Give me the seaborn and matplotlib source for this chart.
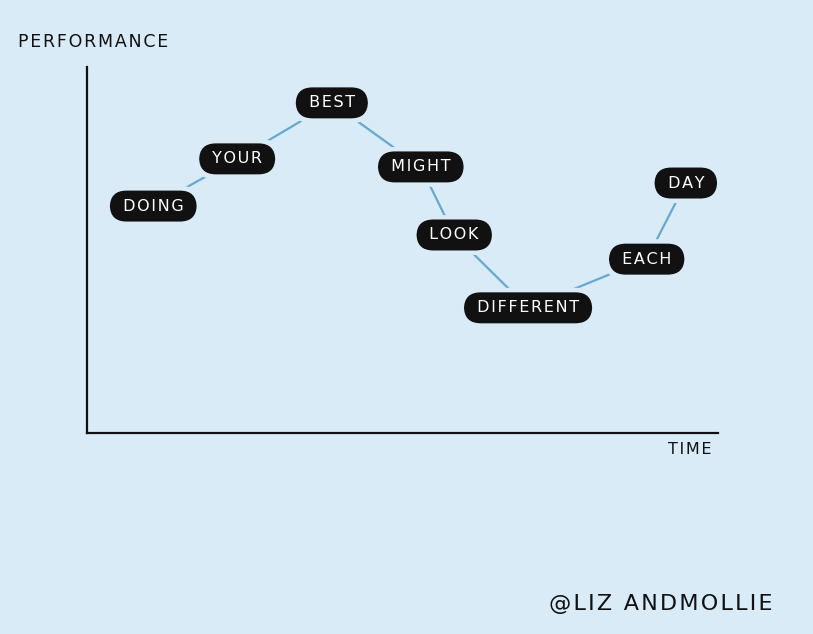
import matplotlib
matplotlib.use("Agg")
import matplotlib.pyplot as plt
import seaborn as sns
import pandas as pd

# Data
words = ["DOING", "YOUR", "BEST", "MIGHT", "LOOK", "DIFFERENT", "EACH", "DAY"]
time_vals = [1.05, 2.38, 3.88, 5.29, 5.82, 6.99, 8.87, 9.49]
performance = [6.2, 7.49, 9.02, 7.27, 5.41, 3.42, 4.75, 6.83]
x_label = "TIME"
y_label = "PERFORMANCE"
credit = "@LIZ ANDMOLLIE"

BG = "#d9ebf7"
LINE = "#64a9cf"
INK = "#111111"
HAIR = "\u200a"


def spaced(s):
    return HAIR.join(list(s))


sns.set_theme(style="white", rc={"figure.facecolor": BG, "axes.facecolor": BG})
plt.rcParams["font.family"] = ["DejaVu Sans"]

df = pd.DataFrame({"time": time_vals, "performance": performance, "word": words})

fig = plt.figure(figsize=(8.13, 6.34), dpi=100)
ax = fig.add_axes([87 / 813, 1 - 433 / 634, (718 - 87) / 813, (433 - 67) / 634])

sns.lineplot(data=df, x="time", y="performance", sort=False, color=LINE,
             linewidth=1.6, ax=ax, zorder=1)

for _, r in df.iterrows():
    label = " " + spaced(r["word"]) + " "
    # halo to create gaps between line and pill
    ax.text(r["time"], r["performance"], label, fontsize=11.5, color=BG,
            ha="center", va="center", zorder=2,
            bbox=dict(boxstyle="round,pad=0.78,rounding_size=1.2", fc=BG, ec="none"))
    ax.text(r["time"], r["performance"], label, fontsize=11.5, color="white",
            ha="center", va="center", zorder=3,
            bbox=dict(boxstyle="round,pad=0.5,rounding_size=1.05", fc=INK, ec="none"))

ax.set_xlim(0, 10)
ax.set_ylim(0, 10)
ax.set_xticks([])
ax.set_yticks([])
ax.set_xlabel("")
ax.set_ylabel("")
for s in ["top", "right"]:
    ax.spines[s].set_visible(False)
for s in ["left", "bottom"]:
    ax.spines[s].set_color(INK)
    ax.spines[s].set_linewidth(1.6)

fig.text(18 / 813, 1 - 42 / 634, spaced(y_label), fontsize=12.5, color=INK,
         ha="left", va="center")
fig.text(690 / 813, 1 - 450 / 634, spaced(x_label), fontsize=11.5, color=INK,
         ha="center", va="center")
fig.text(661 / 813, 1 - 604 / 634, spaced(credit), fontsize=16, color=INK,
         ha="center", va="center")

fig.savefig("out.png", dpi=100, facecolor=BG)
